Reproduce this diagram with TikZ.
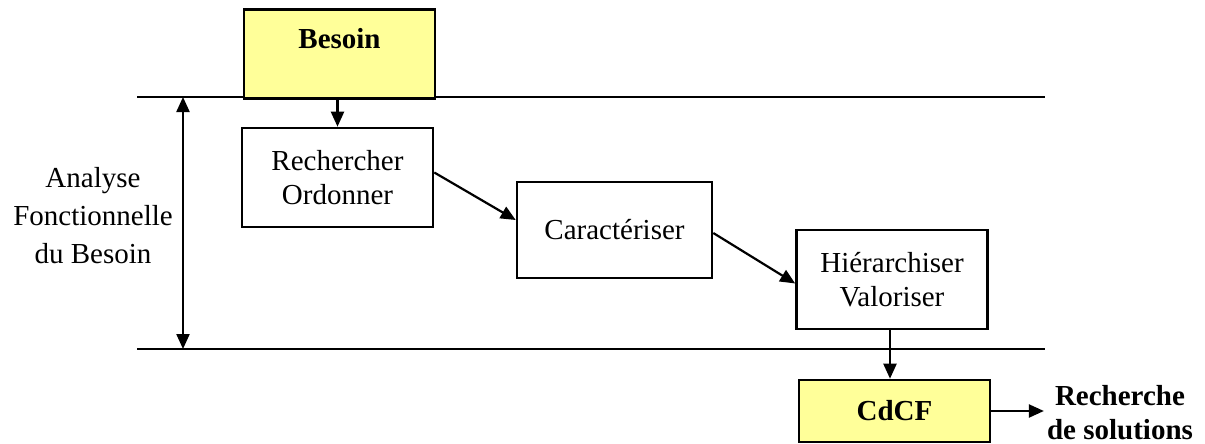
\documentclass[tikz,border=0pt]{standalone}
\usepackage{fontspec}
\setmainfont{Liberation Serif}
\usetikzlibrary{arrows.meta,shapes}
\definecolor{jaune}{HTML}{FFFF99}

\begin{document}
\begin{tikzpicture}[x=1pt,y=-1pt]
		\tikzset{etape/.style = {shape=rectangle,draw,line width=2.6pt,align=center,font=\fontsize{29}{34}\selectfont}}
		\tikzset{edge/.style = {line width=2.2pt,-{Triangle[length=15pt,width=13pt]}}}
		\tikzset{limite/.style = {line width=1.7pt}}
		\useasboundingbox (0,0) rectangle (1205,444);
		
		% lignes du cadre
		\coordinate (h1a) at (137,97);
		\coordinate (h1b) at (1045,97);
		\coordinate (h2a) at (137,349);
		\coordinate (h2b) at (1045,349);
		\draw[limite] (h1a) -- (h1b);
		\draw[limite] (h2a) -- (h2b);
		
		\node[etape,fill=jaune,font=\fontsize{29}{34}\selectfont\bfseries,minimum width=191pt,inner ysep=0pt,text height=39pt,text depth=50pt,anchor=north] (besoin) at (339.5,8) {Besoin};
		\node[etape,minimum width=191pt,minimum height=99pt] (rech) at (337.5,177.5) {Rechercher\\Ordonner};
		\node[etape,minimum width=195pt,minimum height=96pt] (carac) at (614.5,230) {Caract\'eriser};
		\node[etape,minimum width=191pt,minimum height=99pt] (hier) at (892,279.5) {Hi\'erarchiser\\Valoriser};
		\node[etape,fill=jaune,font=\fontsize{29}{34}\selectfont\bfseries,minimum width=191pt,minimum height=62pt] (cdcf) at (894.5,411) {CdCF};
		\node[align=center,inner xsep=3pt,font=\fontsize{29}{34}\selectfont\bfseries] (recsol) at (1120,413) {Recherche\\de solutions};
		\node[align=center,font=\fontsize{29}{38}\selectfont] (afb) at (93,216) {Analyse\\Fonctionnelle\\du Besoin};
		
		\coordinate (dtop) at (183,97);
		\coordinate (dbot) at (183,349);
		\draw[edge,{Triangle[length=15pt,width=13pt]}-{Triangle[length=15pt,width=13pt]}] (dtop) -- (dbot);
		
		\draw[edge] (besoin.south -| rech.north) -- (rech.north);
		\draw[edge] ([yshift=5pt]rech.east) -- ([yshift=10pt]carac.west);
		\draw[edge] ([yshift=-3pt]carac.east) -- ([yshift=-4pt]hier.west);
		\draw[edge] (hier.south -| 890,0) -- (cdcf.north -| 890,0);
		\draw[edge] (cdcf.east) -- (cdcf.east -| recsol.west);
\end{tikzpicture}
\end{document}
